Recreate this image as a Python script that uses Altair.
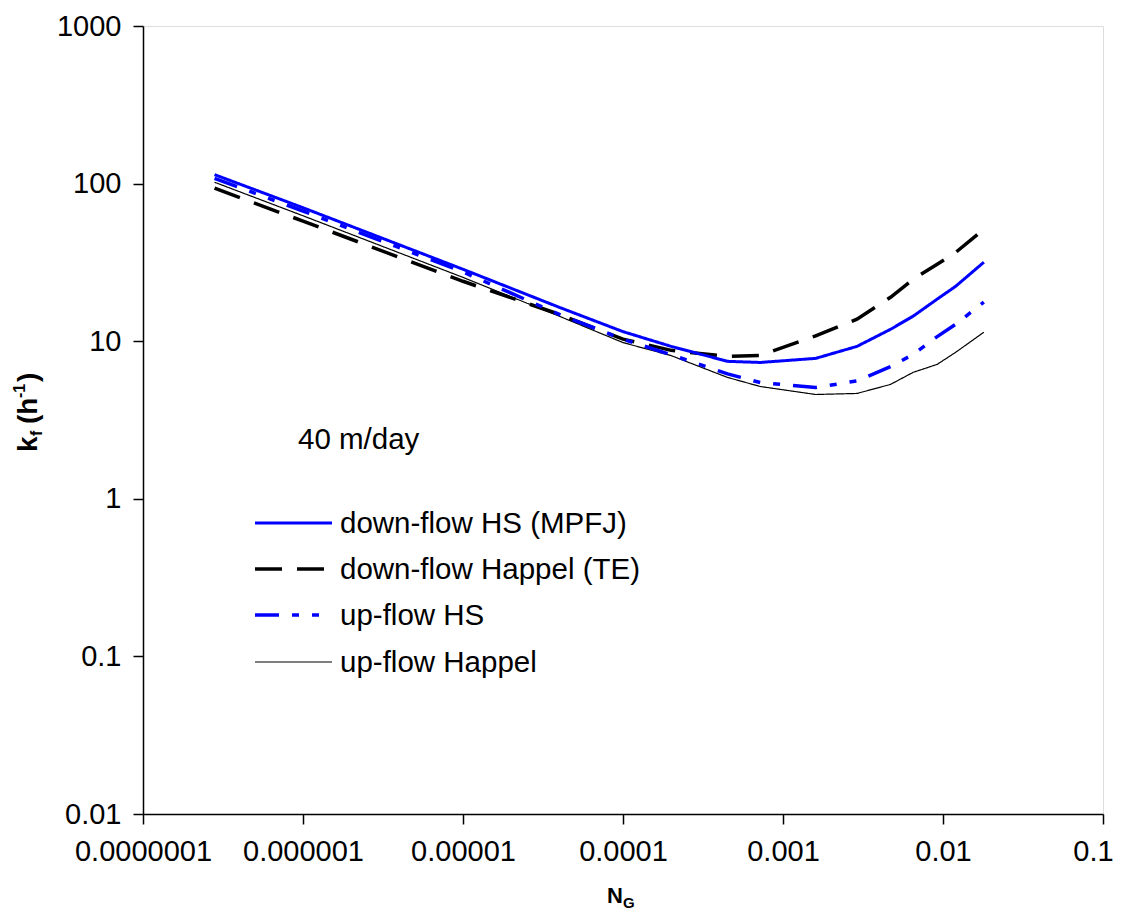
import altair as alt
import pandas as pd

# ---- data ----
ng = [2.8e-7, 1e-6, 1e-5, 4e-5, 1e-4, 2e-4, 4.5e-4, 7.2e-4, 1.6e-3, 2.9e-3, 4.7e-3, 6.5e-3, 9.2e-3, 0.012, 0.018]
down_hs = [114, 70.3, 28.6, 16.4, 11.5, 9.27, 7.45, 7.33, 7.78, 9.27, 11.9, 14.4, 18.5, 22.3, 31.7]
down_happel = [93.5, 57.8, 24.0, 14.8, 10.3, 8.75, 8.0, 8.13, 10.8, 13.8, 19.0, 24.7, 30.8, 36.6, 51.3]
up_hs = [108, 67, 27.5, 14.8, 10.3, 8.2, 6.2, 5.47, 5.08, 5.6, 6.9, 8.24, 10.7, 12.8, 17.7]
up_happel = [102, 62.5, 25.4, 14.4, 9.8, 8.1, 5.89, 5.16, 4.59, 4.66, 5.32, 6.34, 7.13, 8.5, 11.4]

series_names = ["down-flow HS (MPFJ)", "down-flow Happel (TE)", "up-flow HS", "up-flow Happel"]
series_values = [down_hs, down_happel, up_hs, up_happel]

x_ticks = [1e-7, 1e-6, 1e-5, 1e-4, 1e-3, 1e-2, 1e-1]
y_ticks = [0.01, 0.1, 1, 10, 100, 1000]
annotation = ["40 m/day"]

rows = []
for name, vals in zip(series_names, series_values):
    for x, y in zip(ng, vals):
        rows.append({"series": name, "NG": x, "kf": y})
df = pd.DataFrame(rows)
legend_df = pd.DataFrame({"series": series_names})

# ---- styles ----
FONT = "Liberation Sans"
styles = {
    "down-flow HS (MPFJ)": dict(color="#0000FF", strokeDash=[1, 0], strokeWidth=3),
    "down-flow Happel (TE)": dict(color="#000000", strokeDash=[27, 15], strokeWidth=3.5),
    "up-flow HS": dict(color="#0000FF", strokeDash=[24, 13, 7, 13, 7, 13], strokeWidth=3.5),
    "up-flow Happel": dict(color="#000000", strokeDash=[1, 0], strokeWidth=1.2),
}

xscale = alt.Scale(type="log", domain=[1e-7, 0.1], nice=False)
yscale = alt.Scale(type="log", domain=[0.01, 1000], nice=False)

axis_common = dict(grid=False, title=None, labelFont=FONT, labelFontSize=29, labelColor="black",
                   domainColor="black", domainWidth=1.5, tickColor="black", tickWidth=1.5,
                   tickSize=10, labelFlush=False, labelOverlap=False)
xaxis = alt.Axis(values=x_ticks, format=".7~f", labelPadding=13,
                 labelOffset={"condition": {"test": "datum.value > 0.05", "value": -10}, "value": 0},
                 **axis_common)
yaxis = alt.Axis(values=y_ticks, format=".2~f", labelPadding=12, **axis_common)

layers = []
draw_order = ["up-flow Happel", "down-flow Happel (TE)", "up-flow HS", "down-flow HS (MPFJ)"]
for name in draw_order:
    st = styles[name]
    layers.append(
        alt.Chart(df).transform_filter(alt.datum.series == name)
        .mark_line(clip=True, **st)
        .encode(x=alt.X("NG:Q", scale=xscale, axis=xaxis),
                y=alt.Y("kf:Q", scale=yscale, axis=yaxis))
    )

# ---- legend (inside plot) ----
row_y = [497, 543, 589, 636]
for i, name in enumerate(series_names):
    st = styles[name]
    sub = alt.Chart(legend_df).transform_filter(alt.datum.series == name)
    layers.append(sub.mark_rule(**st).encode(x=alt.value(112), x2=alt.value(189), y=alt.value(row_y[i])))
    layers.append(sub.mark_text(align="left", baseline="middle", font=FONT, fontSize=29.5, color="black")
                  .encode(x=alt.value(197), y=alt.value(row_y[i] + 1), text="series:N"))

# ---- annotation ----
layers.append(alt.Chart(pd.DataFrame({"t": annotation})).mark_text(
    align="left", baseline="middle", font=FONT, fontSize=29.5, color="black")
    .encode(x=alt.value(155), y=alt.value(414), text="t:N"))

# ---- axis titles built from pieces (sub/superscripts) ----
def piece(txt, x, y, size, angle=0):
    return alt.Chart(pd.DataFrame({"t": [txt]})).mark_text(
        align="left", baseline="alphabetic", font=FONT, fontSize=size, fontWeight="bold",
        color="black", angle=angle).encode(x=alt.value(x), y=alt.value(y), text="t:N")

layers += [
    piece("k", -106, 426, 28, 270),
    piece("f", -101, 410, 16, 270),
    piece("(h", -106, 398, 28, 270),
    piece("-1", -118, 372, 16, 270),
    piece(")", -106, 356, 28, 270),
    piece("N", 464, 877, 22),
    piece("G", 480, 882, 15),
]

chart = alt.layer(*layers).properties(
    width=960, height=788,
    autosize=alt.AutoSizeParams(type="none"),
    padding={"left": 135, "top": 18, "right": 13, "bottom": 100},
).configure_view(stroke="black", strokeWidth=1.5).configure(background="white")

chart.save("out.html", embed_options={"renderer": "svg", "actions": False})
